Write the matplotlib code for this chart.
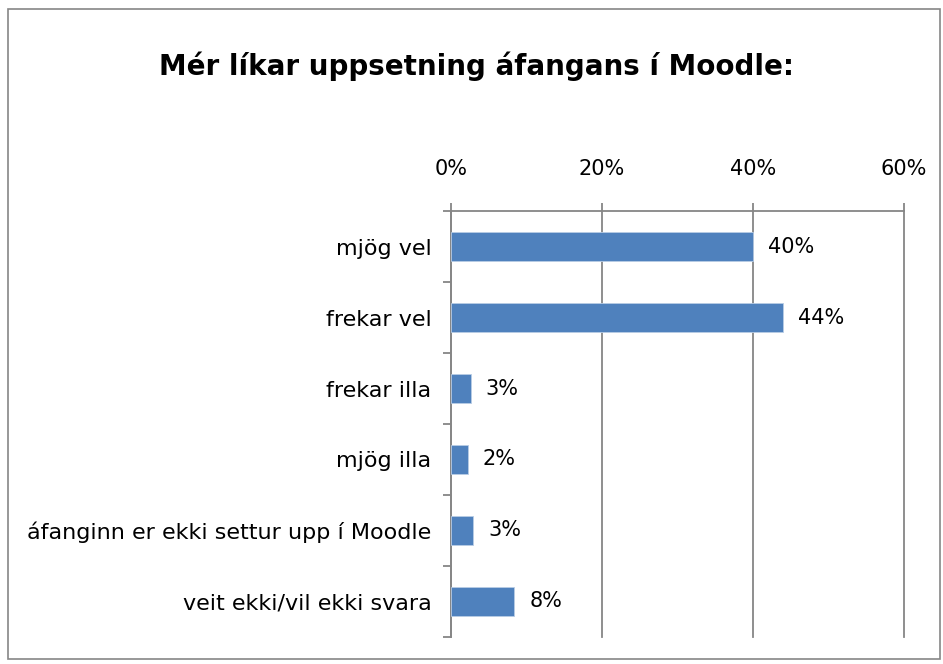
import matplotlib.pyplot as plt
from matplotlib.patches import Rectangle

# gögn lesin af myndinni
categories = ['mjög vel', 'frekar vel', 'frekar illa', 'mjög illa',
              'áfanginn er ekki settur upp í Moodle', 'veit ekki/vil ekki svara']
values = [40.0, 44.0, 2.6, 2.2, 2.9, 8.4]
labels = ['40%', '44%', '3%', '2%', '3%', '8%']
xticks = [0, 20, 40, 60]
xticklabels = ['0%', '20%', '40%', '60%']

grey = '#868686'
blue = '#4F81BD'

fig = plt.figure(figsize=(9.43, 6.64), dpi=100)
ax = fig.add_axes([0.4783, 0.0407, 0.4803, 0.6415])

y = list(range(len(categories)))
ax.barh(y, values, height=0.4, color=blue, edgecolor='#B9CDE5', linewidth=0.6, zorder=3)
for yi, v, lab in zip(y, values, labels):
    ax.text(v + 2.0, yi, lab, va='center', ha='left', fontsize=15)

ax.set_xlim(0, 60)
ax.set_ylim(len(categories) - 0.5, -0.5)
ax.set_xticks(xticks)
ax.set_xticklabels(xticklabels, fontsize=15)
ax.xaxis.tick_top()
ax.tick_params(axis='x', length=6, width=1.3, color=grey, pad=17)
ax.grid(axis='x', color=grey, linewidth=1.3, zorder=0)
for gl in ax.get_xgridlines():
    gl.set_clip_on(False)

ax.set_yticks(y)
ax.set_yticklabels(categories, fontsize=16)
ax.set_yticks([i - 0.5 for i in range(len(categories) + 1)], minor=True)
ax.tick_params(axis='y', which='major', length=0, pad=14)
ax.tick_params(axis='y', which='minor', length=6, width=1.3, color=grey)

for s in ['right', 'bottom']:
    ax.spines[s].set_visible(False)
for s in ['top', 'left']:
    ax.spines[s].set_color(grey)
    ax.spines[s].set_linewidth(1.3)

fig.text(0.505, 0.9, 'Mér líkar uppsetning áfangans í Moodle:', ha='center', va='center',
         fontsize=20, fontweight='bold')

# rammi utan um myndina
fig.patches.append(Rectangle((0.009, 0.008), 0.988, 0.978, transform=fig.transFigure,
                             fill=False, edgecolor=grey, linewidth=1.2))

fig.savefig('out.png', dpi=100)
